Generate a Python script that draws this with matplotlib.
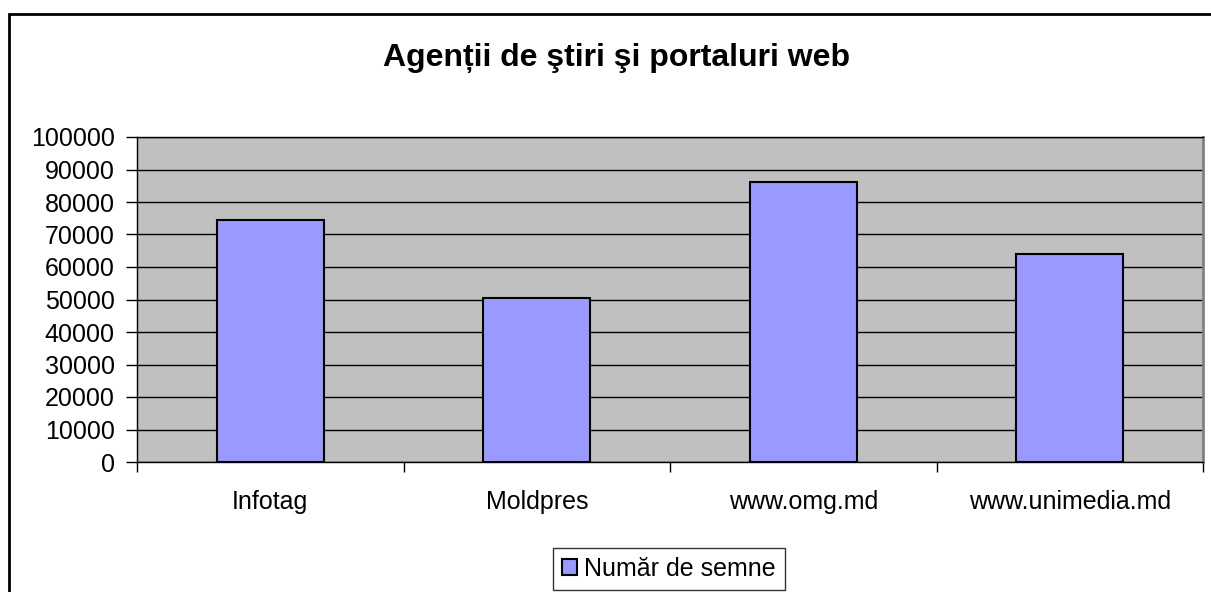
import matplotlib.pyplot as plt
from matplotlib.patches import Rectangle

plt.rcParams['font.family'] = ['Liberation Sans', 'DejaVu Sans']

categories = ["Infotag", "Moldpres", "www.omg.md", "www.unimedia.md"]
semne = [74500, 50400, 86100, 63900]
yticks = list(range(0, 100001, 10000))

fig = plt.figure(figsize=(12.11, 5.92), dpi=100)
# outer chart frame (runs off the right and bottom edge)
fig.patches.append(Rectangle((9 / 1211, -0.05), 1.1, 1 - 14 / 592 + 0.05,
                             transform=fig.transFigure, fill=False,
                             edgecolor='black', linewidth=2))

ax = fig.add_axes([137 / 1211, 1 - 462 / 592, (1203 - 137) / 1211, (462 - 137) / 592])
ax.set_facecolor('#c0c0c0')

x = list(range(len(categories)))
ax.bar(x, semne, width=0.4, color='#9999ff', edgecolor='black', linewidth=1.5,
       label='Număr de semne', zorder=3)

ax.set_xlim(-0.5, len(categories) - 0.5)
ax.set_ylim(0, 100000)
ax.set_yticks(yticks)
ax.set_yticklabels([str(v) for v in yticks], fontsize=18)
ax.yaxis.grid(True, color='black', linewidth=1)
ax.set_axisbelow(True)

ax.set_xticks([i - 0.5 for i in range(len(categories) + 1)])
ax.set_xticklabels([])
ax.set_xticks(x, minor=True)
ax.set_xticklabels(categories, minor=True, fontsize=18)
ax.tick_params(axis='x', which='minor', length=0, pad=20)
ax.tick_params(axis='x', which='major', length=7, width=1, direction='out')
ax.tick_params(axis='y', length=8, width=1, direction='out', pad=8)

for side in ['left', 'bottom', 'top']:
    ax.spines[side].set_color('black')
    ax.spines[side].set_linewidth(1)
ax.spines['right'].set_color('#808080')
ax.spines['right'].set_linewidth(2)

fig.text(617 / 1211, 1 - 58 / 592, "Agenții de ştiri şi portaluri web",
         ha='center', va='center', fontsize=23, fontweight='bold')

leg = fig.legend(loc='center', bbox_to_anchor=(669 / 1211, 1 - 569 / 592),
                 fontsize=18, frameon=True, fancybox=False, edgecolor='black',
                 handlelength=0.6, handleheight=0.6, handletextpad=0.3,
                 borderpad=0.35)
leg.get_frame().set_linewidth(1)

fig.savefig('out.png', dpi=100)
